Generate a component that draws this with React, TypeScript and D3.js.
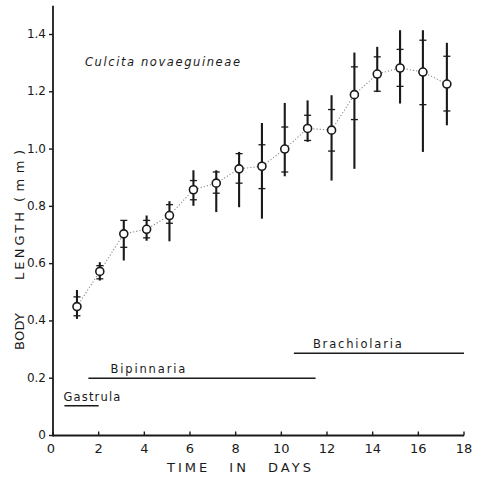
import React from 'react';
import * as d3 from 'd3';

// sampling days (slight drift to the right in the scan)
const days = [1.05, 2.05, 3.1, 4.1, 5.1, 6.15, 7.15, 8.15, 9.15, 10.15, 11.15, 12.2, 13.2, 14.2, 15.2, 16.2, 17.25];
const means = [0.45, 0.573, 0.704, 0.72, 0.768, 0.858, 0.881, 0.931, 0.94, 1.0, 1.072, 1.066, 1.19, 1.262, 1.283, 1.269, 1.227];
const maxs = [0.508, 0.605, 0.751, 0.768, 0.818, 0.926, 0.926, 0.99, 1.091, 1.161, 1.17, 1.188, 1.337, 1.357, 1.415, 1.415, 1.371];
const mins = [0.407, 0.541, 0.611, 0.68, 0.678, 0.802, 0.78, 0.797, 0.757, 0.905, 1.025, 0.89, 0.931, 1.199, 1.159, 0.99, 1.083];
const sdHigh = [0.484, 0.593, 0.751, 0.751, 0.806, 0.89, 0.92, 0.984, 1.015, 1.077, 1.118, 1.138, 1.287, 1.322, 1.348, 1.38, 1.324];
const sdLow = [0.418, 0.547, 0.657, 0.69, 0.741, 0.823, 0.846, 0.881, 0.862, 0.92, 1.03, 0.993, 1.103, 1.202, 1.219, 1.155, 1.133];

// larval stages
const stageNames = ['Gastrula', 'Bipinnaria', 'Brachiolaria'];
const stageStart = [0.5, 1.55, 10.55];
const stageEnd = [2.0, 11.5, 18];
const stageLevel = [0.104, 0.2, 0.287];

const xTicks = [0, 2, 4, 6, 8, 10, 12, 14, 16, 18];
const yTicks = [0, 0.2, 0.4, 0.6, 0.8, 1.0, 1.2, 1.4];
const yTickLabels = ['0', '0.2', '0.4', '0.6', '0.8', '1.0', '1.2', '1.4'];

const yTitleWords = ['BODY', 'LENGTH', '(mm)'];

const W = 479;
const H = 479;
const ink = '#1a1a1a';
const font = '"DejaVu Sans", sans-serif';

const App = () => {
  const x = d3.scaleLinear().domain([0, 18]).range([53, 464]);
  const y = d3.scaleLinear().domain([0, 1.4]).range([435.5, 34.5]);

  const line = d3
    .line<number>()
    .x((d, i) => x(days[i]))
    .y((d) => y(d));

  // label offsets from the start of each stage line
  const labelDx = [-1, 22, 19];
  const labelLen = [57, 75, 89];

  // y title word placement (bottom of each word, length)
  const wordY = [350, 280, 202];
  const wordLen = [37, 68, 52];

  return (
    <div style={{ position: 'absolute', left: 0, top: 0 }}>
      <svg width={W} height={H} style={{ display: 'block', background: '#fff' }}>
        {/* axes */}
        <line x1={x(0)} x2={x(0)} y1={y(0) + 0.9} y2={y(1.5)} stroke={ink} strokeWidth={1.8} />
        <line x1={x(0)} x2={x(18)} y1={y(0)} y2={y(0)} stroke={ink} strokeWidth={1.8} />
        {yTicks.map((t, i) => (
          <g key={'yt' + i}>
            <line x1={x(0) - 4} x2={x(0)} y1={y(t)} y2={y(t)} stroke={ink} strokeWidth={1.4} />
            <text
              x={x(0) - 7}
              y={y(t)}
              textAnchor="end"
              dominantBaseline="middle"
              fontFamily={font}
              fontSize={12}
              fill={ink}
            >
              {yTickLabels[i]}
            </text>
          </g>
        ))}
        {xTicks.map((t, i) => (
          <g key={'xt' + i}>
            <line x1={x(t)} x2={x(t)} y1={y(0)} y2={y(0) - 4} stroke={ink} strokeWidth={1.4} />
            <text
              x={x(t) - (t === 0 ? 2 : 0)}
              y={y(0) + 17}
              textAnchor="middle"
              fontFamily={font}
              fontSize={13}
              fill={ink}
            >
              {t}
            </text>
          </g>
        ))}

        {/* axis titles */}
        <text
          x={167}
          y={472}
          fontFamily={font}
          fontSize={13}
          fill={ink}
          letterSpacing={3}
          wordSpacing={12}
        >
          TIME IN DAYS
        </text>
        {yTitleWords.map((w, i) => (
          <text
            key={w}
            transform={`translate(24,${wordY[i]}) rotate(-90)`}
            fontFamily={font}
            fontSize={13}
            fill={ink}
            textLength={wordLen[i]}
            lengthAdjust="spacing"
          >
            {w}
          </text>
        ))}

        {/* species */}
        <text
          x={85}
          y={66}
          fontFamily={font}
          fontStyle="italic"
          fontSize={11.5}
          fill={ink}
          textLength={155}
          lengthAdjust="spacing"
        >
          Culcita novaeguineae
        </text>

        {/* stages */}
        {stageNames.map((s, i) => (
          <g key={s}>
            <line
              x1={x(stageStart[i])}
              x2={x(stageEnd[i])}
              y1={y(stageLevel[i])}
              y2={y(stageLevel[i])}
              stroke={ink}
              strokeWidth={1.5}
            />
            <text
              x={x(stageStart[i]) + labelDx[i]}
              y={y(stageLevel[i]) - 5}
              fontFamily={font}
              fontSize={11.5}
              fill={ink}
              textLength={labelLen[i]}
              lengthAdjust="spacing"
            >
              {s}
            </text>
          </g>
        ))}

        {/* dotted mean line */}
        <path d={line(means) || ''} fill="none" stroke="#8a8a8a" strokeWidth={1.1} strokeDasharray="1.2 2" />

        {/* range bars with SD ticks */}
        {means.map((m, i) => (
          <g key={'p' + i}>
            <line x1={x(days[i])} x2={x(days[i])} y1={y(maxs[i])} y2={y(mins[i])} stroke={ink} strokeWidth={2.1} />
            <line x1={x(days[i]) - 3.5} x2={x(days[i]) + 3.5} y1={y(sdHigh[i])} y2={y(sdHigh[i])} stroke={ink} strokeWidth={1.3} />
            <line x1={x(days[i]) - 3.5} x2={x(days[i]) + 3.5} y1={y(sdLow[i])} y2={y(sdLow[i])} stroke={ink} strokeWidth={1.3} />
            <circle cx={x(days[i])} cy={y(m)} r={4} fill="#fff" stroke={ink} strokeWidth={1.6} />
          </g>
        ))}
      </svg>
    </div>
  );
};

export default App;
